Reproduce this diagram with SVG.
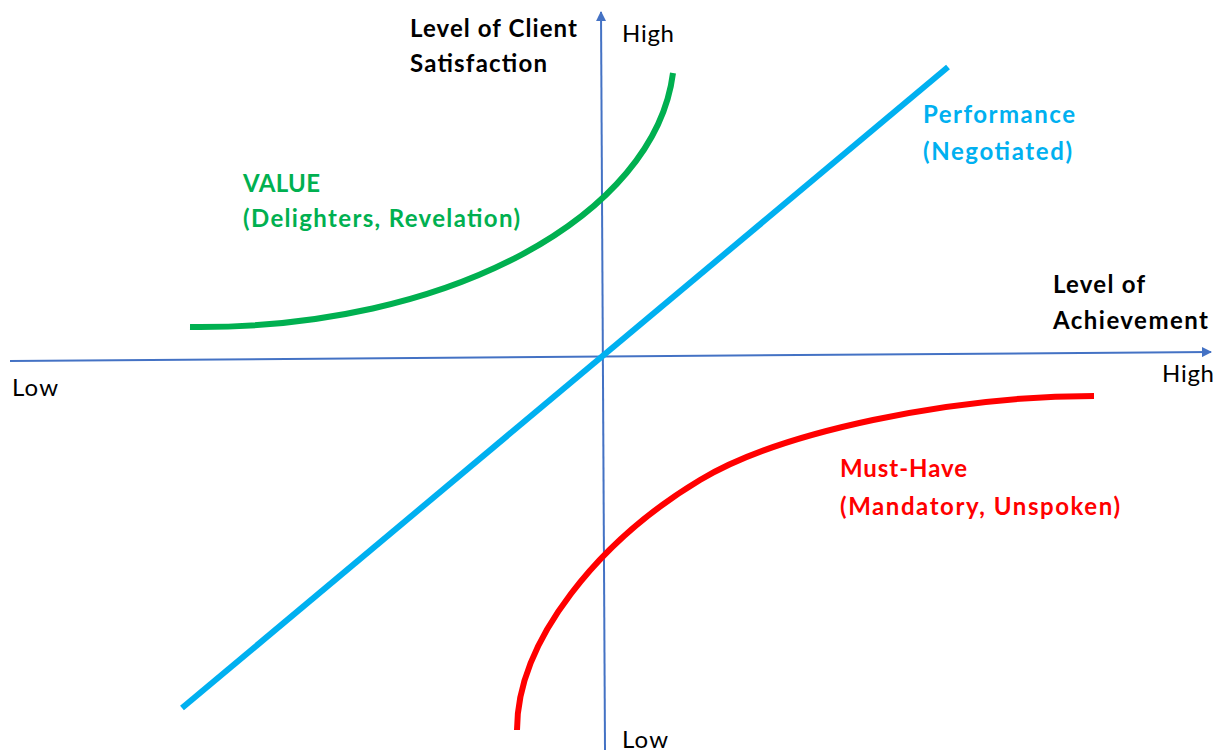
<svg xmlns="http://www.w3.org/2000/svg" width="1225" height="752" viewBox="0 0 1225 752">
  <style>
    text { font-family: Lato, "Liberation Sans", sans-serif; font-size: 24px; }
    .b { font-weight: bold; }
    .axis { stroke: #4472C4; stroke-width: 2; fill: none; }
    .curve { fill: none; stroke-width: 6; stroke-linecap: butt; }
  </style>
  <defs>
    <marker id="arr" viewBox="0 0 10 10" refX="9" refY="5" markerWidth="5" markerHeight="5" orient="auto" markerUnits="strokeWidth">
      <path d="M0,0 L10,5 L0,10 z" fill="#4472C4"/>
    </marker>
  </defs>
  <rect width="1225" height="752" fill="#fff"/>

  <g id="connectors">
    <line id="x-axis" class="axis" x1="10" y1="361" x2="1211" y2="352" marker-end="url(#arr)"/>
    <line id="y-axis" class="axis" x1="605" y1="750" x2="601" y2="12" marker-end="url(#arr)"/>
    <line id="performance-line" class="curve" stroke="#00B0F0" x1="182" y1="708" x2="948" y2="67"/>
    <path id="value-curve" class="curve" stroke="#00B050" d="M190,327 C450,330 655,215 673,73"/>
    <path id="musthave-curve" class="curve" stroke="#FF0000" d="M517,730 C517,640 600,540 700,480 C780,432 950,396 1094,396"/>
  </g>

  <g id="y-axis-label">
    <text class="b" x="410" y="37" textLength="167">Level of Client</text>
    <text class="b" x="410" y="72" textLength="137">Satisfaction</text>
  </g>
  <g id="y-high"><text x="622" y="42" textLength="52">High</text></g>
  <g id="y-low"><text x="622" y="748" textLength="46">Low</text></g>
  <g id="x-axis-label">
    <text class="b" x="1053" y="293" textLength="92">Level of</text>
    <text class="b" x="1053" y="329" textLength="155">Achievement</text>
  </g>
  <g id="x-low"><text x="12" y="396" textLength="46">Low</text></g>
  <g id="x-high"><text x="1162" y="382" textLength="52">High</text></g>
  <g id="performance">
    <text class="b" x="923" y="123" fill="#00B0F0" textLength="152">Performance</text>
    <text class="b" x="923" y="160" fill="#00B0F0" textLength="149">(Negotiated)</text>
  </g>
  <g id="value">
    <text class="b" x="243" y="192" fill="#00B050" textLength="77">VALUE</text>
    <text class="b" x="243" y="227" fill="#00B050" textLength="277">(Delighters, Revelation)</text>
  </g>
  <g id="must-have">
    <text class="b" x="840" y="477" fill="#FF0000" textLength="127">Must-Have</text>
    <text class="b" x="840" y="515" fill="#FF0000" textLength="280">(Mandatory, Unspoken)</text>
  </g>
</svg>
